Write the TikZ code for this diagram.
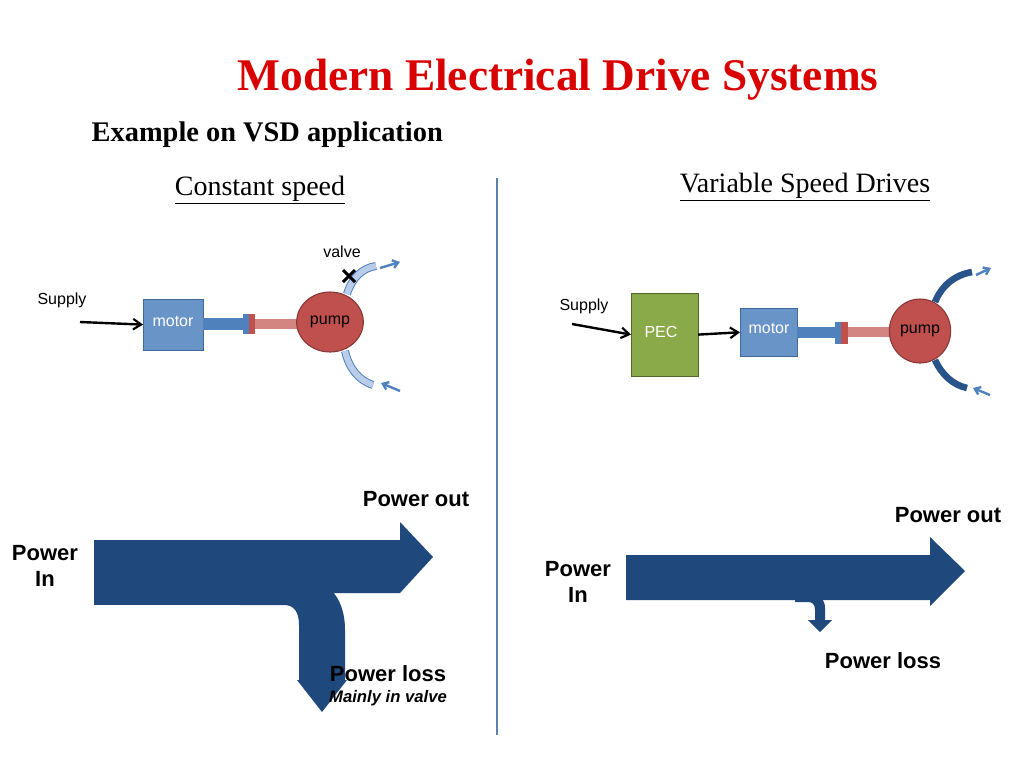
\documentclass[tikz,border=0pt]{standalone}
\usepackage{fontspec}
\setmainfont{Liberation Serif}
\newfontfamily\ssf{Liberation Sans}
\usetikzlibrary{arrows.meta,shapes.geometric}
\definecolor{dblue}{HTML}{1F497D}
\definecolor{mblue}{HTML}{4F81BD}
\definecolor{lblue}{HTML}{B9CDEB}
\definecolor{pred}{HTML}{C0504D}
\definecolor{pgreen}{HTML}{8AAA4A}
\begin{document}
\begin{tikzpicture}[x=0.75pt,y=-0.75pt,
 lbl/.style={font=\ssf\fontsize{16.5}{19}\selectfont\bfseries,align=center},
 small/.style={font=\ssf\fontsize{12}{14}\selectfont},
 motor/.style={draw=mblue!80!black,fill=mblue!85!white,anchor=north west,inner sep=0pt},
 pump/.style={ellipse,draw=pred!70!black,fill=pred,line width=0.8pt,font=\ssf\fontsize{12}{14}\selectfont,inner sep=0pt},
 sup/.style={-{Straight Barb[length=6pt,width=8pt,line width=1.6pt]},line width=1.8pt},
 flow/.style={-{Straight Barb[length=4pt,width=6pt]},mblue,line width=1.8pt},
 big/.style={fill=dblue,draw=none}]
\useasboundingbox (0,0) rectangle (1024,768);
\node[text=red!85!black,font=\fontsize{34}{38}\selectfont\bfseries] (title) at (558,80) {Modern Electrical Drive Systems};
\node[anchor=west,font=\fontsize{21.3}{24}\selectfont\bfseries] (ex) at (87,135) {Example on VSD application};
\node[font=\fontsize{21}{24}\selectfont] (cs) at (260,190) {\underline{Constant speed}};
\node[font=\fontsize{21}{24}\selectfont] (vs) at (805,187) {\underline{Variable Speed Drives}};
\draw[line width=1.5pt,color=mblue!70!gray] (497,178) -- (497,735);
% left drive
\node[small] (sup1) at (62,300) {Supply};
\coordinate (s1) at (80,322);
\node[motor,minimum width=45pt,minimum height=38pt] (m1) at (143,299) {};
\node[text=white,font=\ssf\fontsize{12}{14}\selectfont] at (173,321) {motor};
\draw[sup] (s1) -- (m1.west);
\fill[mblue] (203,318) rectangle (243,330);
\fill[mblue] (243,314) rectangle (249,334);
\fill[pred] (249,314) rectangle (255,334);
\fill[pred!70!white] (255,319) rectangle (300,329);
\node[pump,minimum width=50pt,minimum height=45pt] (p1) at (330,322) {pump};
\draw[mblue,line width=6pt] (347,294) .. controls (352,278) and (362,268) .. (376,266);
\draw[lblue,line width=4.5pt] (347,294) .. controls (352,278) and (362,268) .. (376,266);
\draw[mblue,line width=6pt] (345,351) .. controls (349,368) and (358,380) .. (373,385);
\draw[lblue,line width=4.5pt] (345,351) .. controls (349,368) and (358,380) .. (373,385);
\node[small] (valve) at (342,252) {valve};
\draw[line width=2.2pt] (343,270) -- (355,282) (343,282) -- (355,270);
\coordinate (x) at (349,276);
\coordinate (f1a) at (380,268); \coordinate (f1b) at (400,262);
\draw[flow] (f1a) -- (f1b);
\coordinate (f2a) at (400,391); \coordinate (f2b) at (381,383);
\draw[flow] (f2a) -- (f2b);
% right drive
\node[small] (sup2) at (584,306) {Supply};
\coordinate (s2) at (572,324);
\node[anchor=north west,draw=pgreen!60!black,fill=pgreen,minimum width=50pt,minimum height=62pt,inner sep=0pt] (pec) at (631,293) {};
\node[text=white,font=\ssf\fontsize{12}{14}\selectfont] at (661,332) {PEC};
\draw[sup] (s2) -- (pec.west);
\node[motor,minimum width=43pt,minimum height=36pt] (m2) at (740,308) {};
\node[text=white,font=\ssf\fontsize{12}{14}\selectfont] at (769,328) {motor};
\draw[sup] (pec.east) -- (m2.west);
\fill[mblue] (797,327) rectangle (835,338);
\fill[mblue] (835,322) rectangle (841,344);
\fill[pred] (841,322) rectangle (848,344);
\fill[pred!70!white] (848,327) rectangle (892,337);
\node[pump,minimum width=46pt,minimum height=48pt] (p2) at (920,331) {pump};
\draw[dblue!80!mblue,line width=5pt] (935,302) .. controls (942,285) and (955,275) .. (972,272);
\draw[dblue!80!mblue,line width=5pt] (935,360) .. controls (942,375) and (953,385) .. (967,388);
\coordinate (f3a) at (976,275); \coordinate (f3b) at (991,268);
\draw[flow] (f3a) -- (f3b);
\coordinate (f4a) at (990,395); \coordinate (f4b) at (973,388);
\draw[flow] (f4a) -- (f4b);
% power flow left
\fill[big] (94,540) rectangle (240,605);
\fill[big] (240,540) -- (400,540) -- (400,522) -- (433,557) -- (400,593) -- (240,593) -- cycle;
\fill[big] (240,575) -- (290,575) .. controls (325,575) and (345,595) .. (345,630) -- (345,680) -- (347,680) -- (322,712) -- (297,680) -- (299,680) -- (299,625) .. controls (299,612) and (294,605) .. (284,605) -- (240,605) -- cycle;
\node[lbl] (po1) at (416,499) {Power out};
\node[lbl] (pi1) at (45,566) {Power\\In};
\node[lbl] (pl1) at (388,674) {Power loss};
\node[font=\ssf\fontsize{12.5}{14}\selectfont\bfseries\itshape] (mv) at (388,698) {Mainly in valve};
% power flow right
\fill[big] (626,555) -- (930,555) -- (930,537) -- (965,571) -- (930,606) -- (930,600) -- (626,600) -- cycle;
\fill[big] (795,594) -- (812,594) .. controls (820,594) and (825,600) .. (825,608) -- (825,620) -- (832,620) -- (820,632) -- (808,620) -- (815,620) -- (815,610) .. controls (815,604) and (812,602) .. (808,602) -- (795,602) -- cycle;
\node[lbl] (po2) at (948,515) {Power out};
\node[lbl] (pi2) at (578,582) {Power\\In};
\node[lbl] (pl2) at (883,661) {Power loss};
\end{tikzpicture}
\end{document}
